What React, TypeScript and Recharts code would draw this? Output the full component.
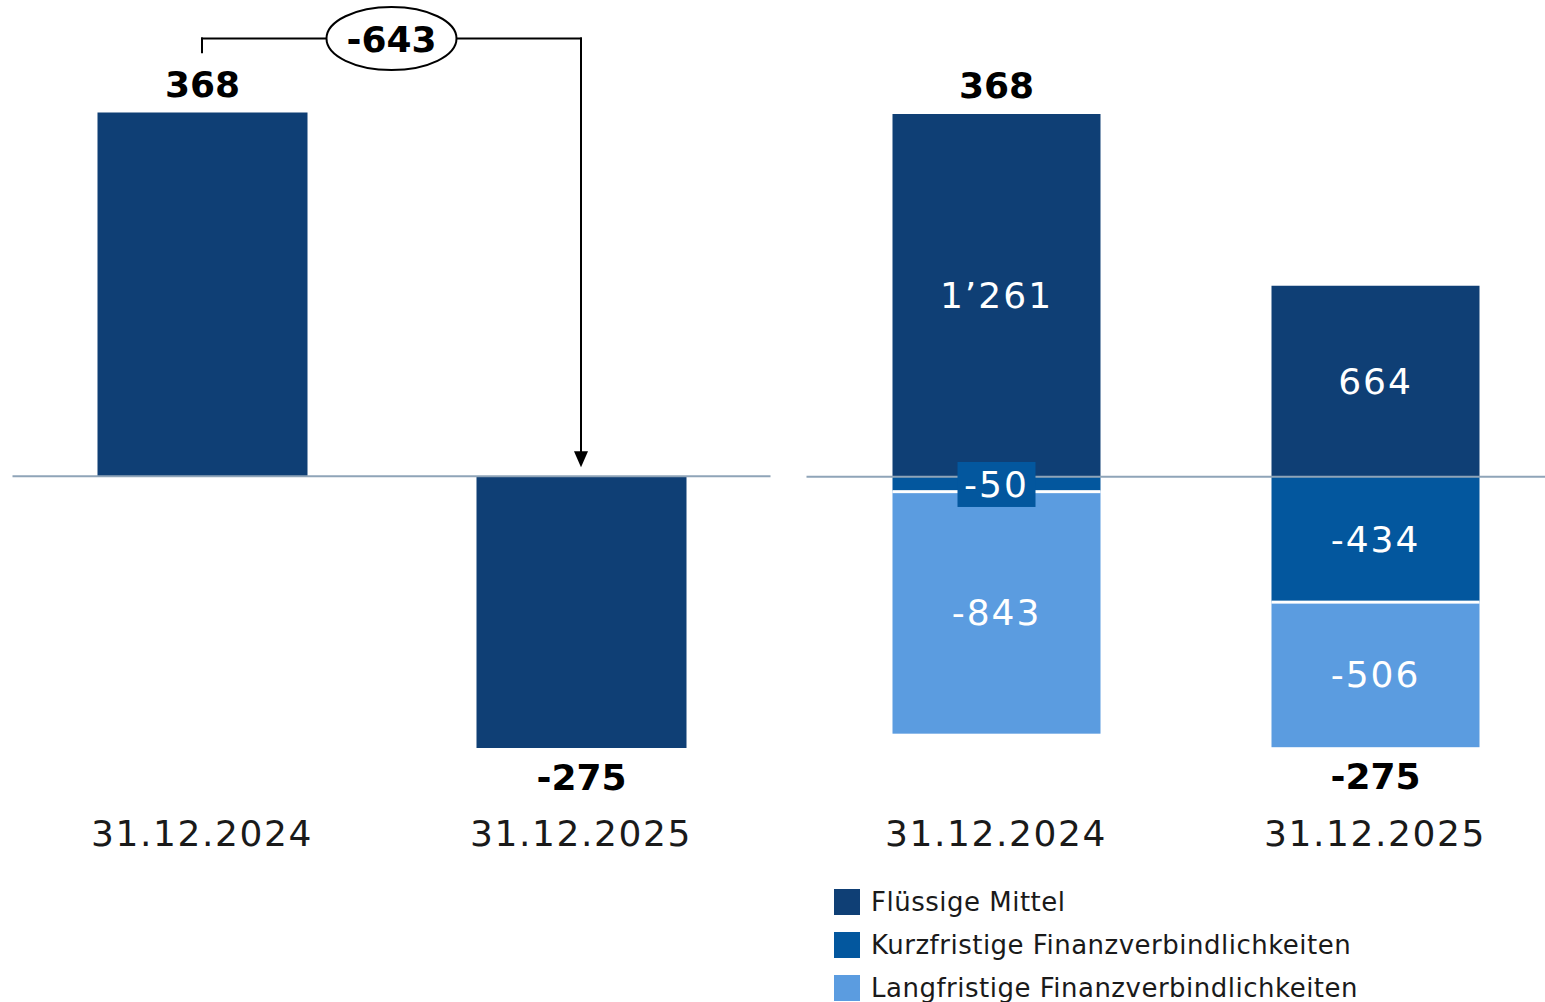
import React from "react";
import {
  BarChart, Bar, XAxis, YAxis, ReferenceLine, LabelList, Legend,
} from "recharts";

// values (CHF m)
const DATES = ["31.12.2024", "31.12.2025"];
const NET_CASH = [368, -275];
const CASH = [1261, 664];
const SHORT_DEBT = [-50, -434];
const LONG_DEBT = [-843, -506];
const CHANGE = -643;
const SERIES = ["Flüssige Mittel", "Kurzfristige Finanzverbindlichkeiten", "Langfristige Finanzverbindlichkeiten"];

const NAVY = "#0f3f75";
const MID = "#03579e";
const LIGHT = "#5b9ce0";
const ZERO = "#8fa4b8";
const INK = "#1a1a1a";
const FONT = "'DejaVu Sans', sans-serif";

// bracket annotation levels, in left-chart value units
const BRACKET_LEVEL = 443;
const BRACKET_START = 429;
const ARROW_TIP = 9;

const leftData = DATES.map((d, i) => ({ date: d, net: NET_CASH[i] }));
const rightData = DATES.map((d, i) => ({
  date: d, cash: CASH[i], short: SHORT_DEBT[i], long: LONG_DEBT[i], net: NET_CASH[i],
}));

function fmt(v: number): string {
  const s = Math.abs(v).toString().replace(/\B(?=(\d{3})+(?!\d))/g, "’");
  return (v < 0 ? "-" : "") + s;
}

function bounds(p: any) {
  const y = Number(p.y), h = Number(p.height);
  return { top: Math.min(y, y + h), bottom: Math.max(y, y + h), h: Math.abs(h) };
}

const CatTick = (p: any) => (
  <text x={p.x} y={p.y + 24} textAnchor="middle" fontSize={36} letterSpacing={1.6}
    fill={INK} fontFamily={FONT}>
    {p.payload.value}
  </text>
);

// net total: above the bar when positive, below when negative
const TotalLabel = (p: any) => {
  const v = Number(p.value);
  const { top, bottom } = bounds(p);
  const cx = Number(p.x) + Number(p.width) / 2;
  const y = v >= 0 ? top - 16 : bottom + 42;
  return (
    <text x={cx} y={y} textAnchor="middle" fontSize={36} fontWeight="bold" fill="#000" fontFamily={FONT}>
      {fmt(v)}
    </text>
  );
};

const makeTotal = (sign: number) => (p: any) => {
  const v = Number(p.value);
  if (sign > 0 ? v < 0 : v >= 0) return null;
  return <TotalLabel {...p} />;
};

const InnerLabel = (boxColor: string) => (p: any) => {
  const v = Number(p.value);
  const { top, h } = bounds(p);
  const cx = Number(p.x) + Number(p.width) / 2;
  const cy = top + h / 2;
  const txt = fmt(v);
  const small = h < 40;
  const bw = txt.length * 24 + 6;
  return (
    <g>
      {small && <rect x={cx - bw / 2} y={cy - 22} width={bw} height={45} fill={boxColor} />}
      <text x={cx} y={cy + 13} textAnchor="middle" fontSize={36} letterSpacing={2}
        fill="#fff" fontFamily={FONT}>
        {txt}
      </text>
    </g>
  );
};

const LongShape = (p: any) => {
  const { top, h } = bounds(p);
  return (
    <g>
      <rect x={p.x} y={top} width={p.width} height={h} fill={p.fill} />
      <rect x={p.x} y={top - 1} width={p.width} height={3} fill="#fff" />
    </g>
  );
};

const ArrowLine = (p: any) => {
  const { x1, y1, x2, y2 } = p;
  return (
    <g>
      <line x1={x1} y1={y1} x2={x2} y2={y2 - 14} stroke="#000" strokeWidth={2} strokeLinecap="square" />
      <polygon points={`${x2 - 7},${y2 - 16} ${x2 + 7},${y2 - 16} ${x2},${y2}`} fill="#000" />
    </g>
  );
};

// horizontal bracket with the change bubble sitting at its midpoint
const BracketWithBubble = (p: any) => {
  const { x1, y1, x2, y2 } = p;
  const cx = (x1 + x2) / 2;
  const cy = (y1 + y2) / 2;
  return (
    <g>
      <line x1={x1} y1={y1} x2={x2} y2={y2} stroke="#000" strokeWidth={2} strokeLinecap="square" />
      <ellipse cx={cx} cy={cy} rx={65} ry={31.5} fill="#fff" stroke="#000" strokeWidth={2} />
      <text x={cx} y={cy + 13} textAnchor="middle" fontSize={36} fontWeight="bold" fill="#000" fontFamily={FONT}>
        {fmt(CHANGE)}
      </text>
    </g>
  );
};

const LegendBox = (props: any) => (
  <div style={{ fontFamily: FONT }}>
    {(props.payload || []).map((e: any) => (
      <div key={e.value} style={{ display: "flex", alignItems: "center", height: 43 }}>
        <span style={{ display: "inline-block", width: 26, height: 26, background: e.color, marginRight: 11 }} />
        <span style={{ fontSize: 26, letterSpacing: 0.5, color: INK }}>{e.value}</span>
      </div>
    ))}
  </div>
);

export default function App() {
  return (
    <div style={{ position: "absolute", left: 0, top: 0, width: 1545, height: 1002, overflow: "hidden", background: "#fff" }}>
      <div style={{ position: "absolute", left: 0, top: 0 }}>
        <BarChart width={790} height={1002} data={leftData}
          margin={{ top: 81, right: 19.5, bottom: 150, left: 12.5 }}>
          <XAxis dataKey="date" axisLine={false} tickLine={false} tickSize={0} tickMargin={0}
            height={30} tick={CatTick} interval={0} />
          <YAxis hide domain={[-350, 400]} />
          <Bar dataKey="net" fill={NAVY} barSize={210} isAnimationActive={false}>
            <LabelList dataKey="net" content={TotalLabel} />
          </Bar>
          <ReferenceLine y={0} stroke={ZERO} strokeWidth={2} />
          <ReferenceLine ifOverflow="visible" stroke="#000" strokeWidth={2} strokeLinecap="square"
            segment={[{ x: DATES[0], y: BRACKET_START }, { x: DATES[0], y: BRACKET_LEVEL }]} />
          <ReferenceLine ifOverflow="visible" shape={ArrowLine}
            segment={[{ x: DATES[1], y: BRACKET_LEVEL }, { x: DATES[1], y: ARROW_TIP }]} />
          <ReferenceLine ifOverflow="visible" shape={BracketWithBubble}
            segment={[{ x: DATES[0], y: BRACKET_LEVEL }, { x: DATES[1], y: BRACKET_LEVEL }]} />
        </BarChart>
      </div>
      <div style={{ position: "absolute", left: 790, top: 0 }}>
        <BarChart width={790} height={1002} data={rightData} stackOffset="sign"
          margin={{ top: 74, right: 15.5, bottom: 150, left: 16.5 }}>
          <XAxis dataKey="date" axisLine={false} tickLine={false} tickSize={0} tickMargin={0}
            height={30} tick={CatTick} interval={0} />
          <YAxis hide domain={[-1200, 1400]} />
          <Bar dataKey="cash" name={SERIES[0]} stackId="s" fill={NAVY} barSize={208} isAnimationActive={false}>
            <LabelList dataKey="cash" content={InnerLabel(NAVY)} />
            <LabelList dataKey="net" content={makeTotal(1)} />
          </Bar>
          <Bar dataKey="short" name={SERIES[1]} stackId="s" fill={MID} barSize={208} isAnimationActive={false}>
            <LabelList dataKey="short" content={InnerLabel(MID)} />
          </Bar>
          <Bar dataKey="long" name={SERIES[2]} stackId="s" fill={LIGHT} barSize={208} shape={LongShape}
            isAnimationActive={false}>
            <LabelList dataKey="long" content={InnerLabel(LIGHT)} />
            <LabelList dataKey="net" content={makeTotal(-1)} />
          </Bar>
          <ReferenceLine y={0} stroke={ZERO} strokeWidth={2} />
          <Legend layout="vertical" align="center" verticalAlign="middle" content={LegendBox}
            wrapperStyle={{ left: 44, top: 880, width: 700 }} />
        </BarChart>
      </div>
    </div>
  );
}
